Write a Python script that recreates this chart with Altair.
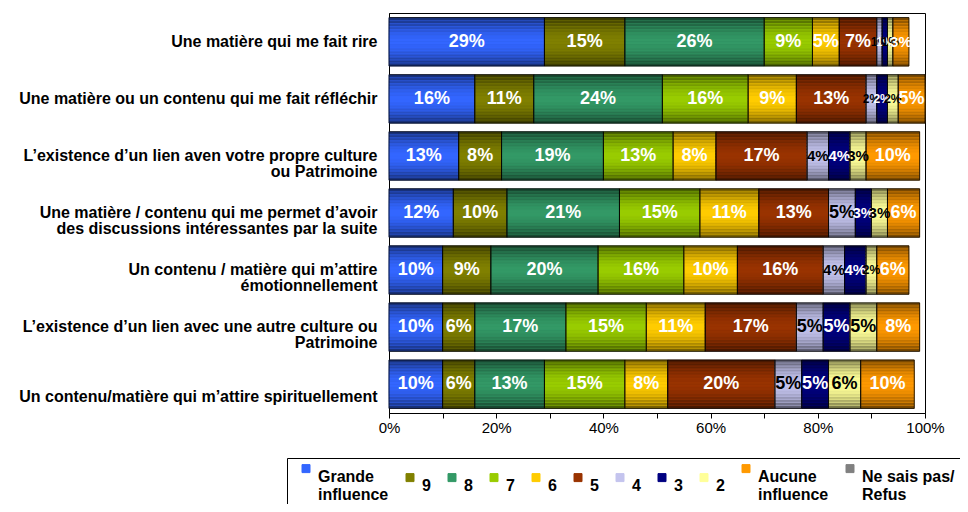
import altair as alt
import pandas as pd

categories = [
    "Une matière qui me fait rire",
    "Une matière ou un contenu qui me fait réfléchir",
    "L’existence d’un lien aven votre propre culture|ou Patrimoine",
    "Une matière / contenu qui me permet d’avoir|des discussions intéressantes par la suite",
    "Un contenu / matière qui m’attire|émotionnellement",
    "L’existence d’un lien avec une autre culture ou|Patrimoine",
    "Un contenu/matière qui m’attire spirituellement",
]
series = ["Grande|influence", "9", "8", "7", "6", "5", "4", "3", "2",
          "Aucune|influence", "Ne sais pas/|Refus"]
colors = ["#3366FF", "#808000", "#339966", "#99CC00", "#FFCC00", "#993300",
          "#C4C4EE", "#000080", "#FFFF99", "#FF9900", "#808080"]

v_grande = [29, 16, 13, 12, 10, 10, 10]
v_9 = [15, 11, 8, 10, 9, 6, 6]
v_8 = [26, 24, 19, 21, 20, 17, 13]
v_7 = [9, 16, 13, 15, 16, 15, 15]
v_6 = [5, 9, 8, 11, 10, 11, 8]
v_5 = [7, 13, 17, 13, 16, 17, 20]
v_4 = [1, 2, 4, 5, 4, 5, 5]
v_3 = [1, 2, 4, 3, 4, 5, 5]
v_2 = [1, 2, 3, 3, 2, 5, 6]
v_aucune = [3, 5, 10, 6, 6, 8, 10]
v_nsp = [0, 0, 0, 0, 0, 0, 0]

all_vals = [v_grande, v_9, v_8, v_7, v_6, v_5, v_4, v_3, v_2, v_aucune, v_nsp]
rows = []
for si, (s, vals) in enumerate(zip(series, all_vals)):
    for ci, c in enumerate(categories):
        rows.append({"row": c, "series": s, "sidx": si, "value": vals[ci]})
df = pd.DataFrame(rows)

# style only: darkness of each thin horizontal strip of a bar, top to bottom
shade_levels = [0.52, 0.42, 0.32, 0.23, 0.15, 0.08, 0.03, 0.0,
                0.0, 0.03, 0.08, 0.15, 0.23, 0.32, 0.42, 0.52]
strip_df = pd.concat(
    [df.assign(k=k, op=1.0 - d) for k, d in enumerate(shade_levels)],
    ignore_index=True,
)

FONT = "Liberation Sans"

y_enc = alt.Y(
    "row:N", sort=categories,
    scale=alt.Scale(paddingInner=0.15, paddingOuter=0.08),
    axis=alt.Axis(
        title=None, labelExpr="split(datum.label, '|')", labelFont=FONT,
        labelFontWeight="bold", labelFontSize=16, labelColor="black",
        labelLimit=400, ticks=False, domainColor="black", labelPadding=12,
        labelLineHeight=16,
        labelOffset={"condition": {"test": "indexof(datum.value, 'spirituellement') >= 0", "value": 13}, "value": 0},
    ),
)
x_scale = alt.Scale(domain=[0, 100], nice=False)
x_axis = alt.Axis(
    title=None, values=list(range(0, 101, 5)),
    labelExpr="datum.value % 20 == 0 ? datum.value + '%' : ''",
    grid=False, tickSize=5, tickColor="black", domainColor="black",
    labelFont=FONT, labelFontSize=15, labelColor="black", labelPadding=2,
    labelFlush=False, labelOverlap=False,
)

stacked = alt.Chart(df).transform_filter("datum.value > 0").transform_stack(
    stack="value", groupby=["row"], sort=[alt.SortField("sidx")], as_=["x0", "x1"]
)

# black underlay (the colour strips above it are partly transparent -> darker edges)
underlay = stacked.mark_bar(color="black").encode(
    y=y_enc,
    x=alt.X("x0:Q", scale=x_scale, axis=x_axis),
    x2="x1:Q",
)

strips = alt.Chart(strip_df).transform_filter("datum.value > 0").transform_stack(
    stack="value", groupby=["row", "k"], sort=[alt.SortField("sidx")], as_=["x0", "x1"]
).mark_bar(strokeWidth=0.9).encode(
    y=alt.Y("row:N", sort=categories),
    yOffset=alt.YOffset("k:O", scale=alt.Scale(paddingInner=0, paddingOuter=0)),
    x=alt.X("x0:Q"),
    x2="x1:Q",
    opacity=alt.Opacity("op:Q", scale=None, legend=None),
    stroke=alt.Stroke("series:N", scale=alt.Scale(domain=series, range=colors), legend=None),
    color=alt.Color(
        "series:N",
        scale=alt.Scale(domain=series, range=colors),
        legend=alt.Legend(
            title=None, orient="none", legendX=-102, legendY=445,
            direction="horizontal", columns=11, columnPadding=13,
            symbolType="M-1,-3.1H1V-1.1H-1Z", symbolSize=64,
            symbolStrokeColor="#222", symbolStrokeWidth=1, symbolOpacity=1,
            labelFont=FONT, labelFontWeight="bold",
            labelFontSize=16, labelColor="black",
            labelExpr="split(datum.label, '|')", labelLimit=300,
            labelOffset=4, padding=11,
            strokeColor="black", fillColor="white",
        ),
    ),
)

borders = stacked.mark_bar(fillOpacity=0, stroke="black", strokeWidth=0.8).encode(
    y=alt.Y("row:N", sort=categories),
    x=alt.X("x0:Q"),
    x2="x1:Q",
)

labels = stacked.transform_calculate(
    mid="(datum.x0 + datum.x1) / 2",
    txt="datum.value + '%'",
    fs="datum.value <= 2 ? 12 : (datum.value <= 4 ? 15 : 18)",
).mark_text(font=FONT, fontWeight="bold", align="center", baseline="middle").encode(
    y=alt.Y("row:N", sort=categories),
    x=alt.X("mid:Q"),
    text="txt:N",
    size=alt.Size("fs:Q", scale=None, legend=None),
    color=alt.condition("datum.sidx == 6 || datum.sidx == 8",
                        alt.value("black"), alt.value("white")),
)

chart = alt.layer(underlay, strips, borders, labels).properties(
    width=536, height=400,
    autosize=alt.AutoSizeParams(type="none"),
    padding={"left": 381, "top": 5, "right": 35, "bottom": 91},
    background="white",
).configure_view(stroke="black", strokeWidth=1)

chart.save("out.html", embed_options={"renderer": "svg", "actions": False})
